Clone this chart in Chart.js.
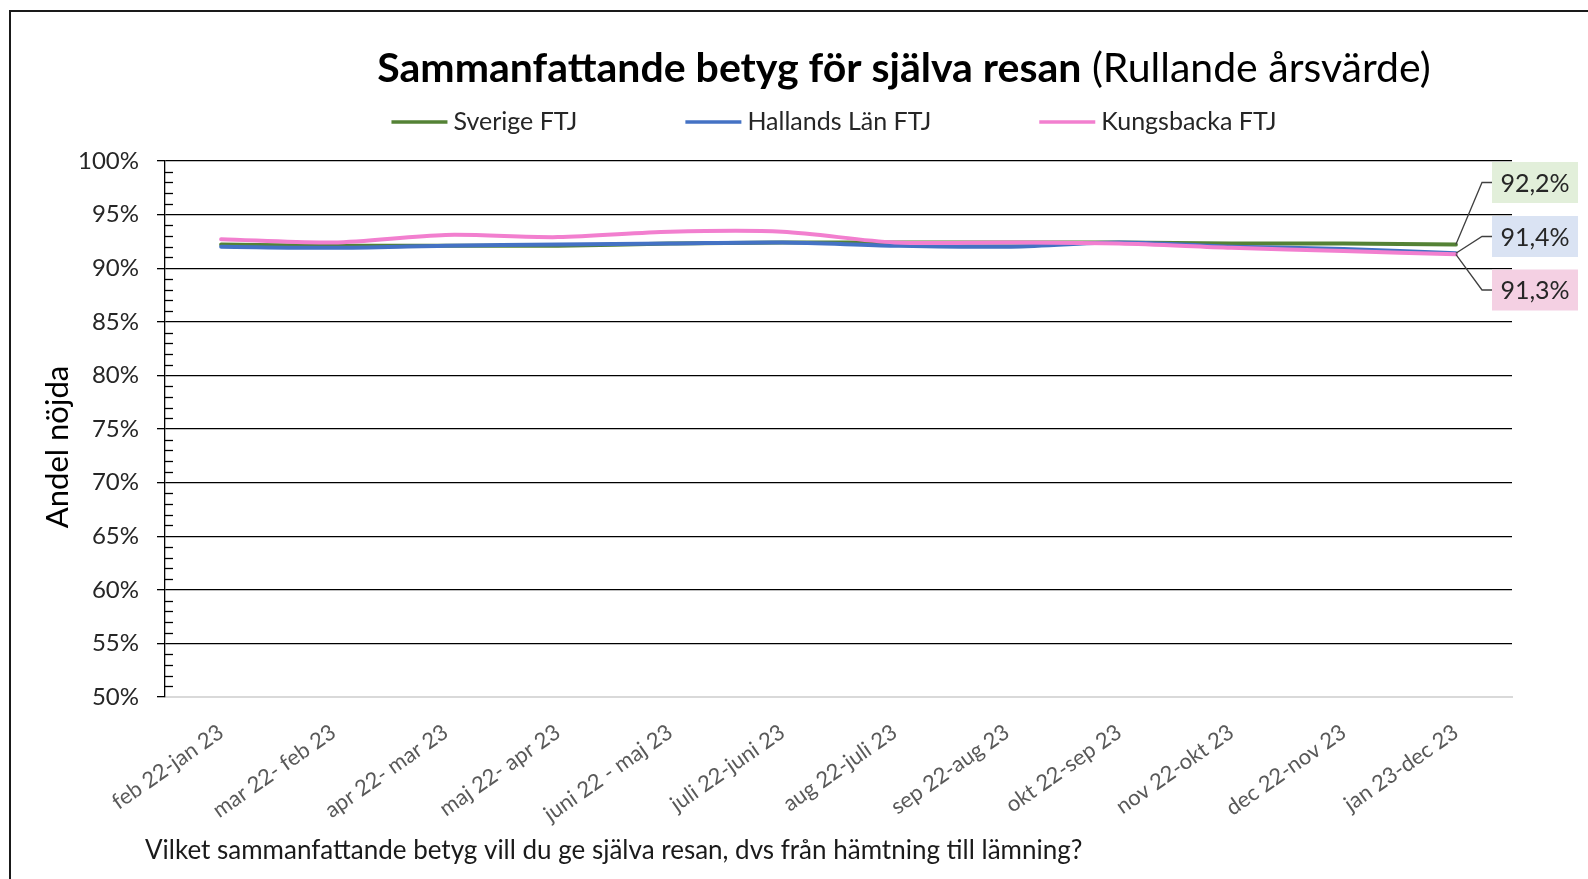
<!DOCTYPE html>
<html>
<head>
<meta charset="utf-8">
<style>
  html, body { margin: 0; padding: 0; background: #fff; }
  #wrap { width: 1588px; height: 879px; }
</style>
</head>
<body>
<div id="wrap"><canvas id="betyg" width="1588" height="879"></canvas></div>
<script src="https://cdn.jsdelivr.net/npm/chart.js"></script>
<script>
  // Perioder (rullande år)
  const perioder = [
    "feb 22-jan 23", "mar 22- feb 23", "apr 22- mar 23", "maj 22- apr 23",
    "juni 22 - maj 23", "juli 22-juni 23", "aug 22-juli 23", "sep 22-aug 23",
    "okt 22-sep 23", "nov 22-okt 23", "dec 22-nov 23", "jan 23-dec 23"
  ];

  // Andel nöjda (%)
  const sverige    = [92.2, 92.1, 92.1, 92.1, 92.3, 92.4, 92.4, 92.4, 92.4, 92.3, 92.3, 92.2];
  const halland    = [92.0, 91.9, 92.1, 92.2, 92.3, 92.4, 92.1, 92.0, 92.4, 92.0, 91.8, 91.4];
  const kungsbacka = [92.7, 92.4, 93.1, 92.9, 93.4, 93.4, 92.4, 92.4, 92.3, 91.9, 91.6, 91.3];

  const serieNamn = ["Sverige FTJ", "Hallands Län FTJ", "Kungsbacka FTJ"];

  // y-axel
  const yMin = 50;
  const yMax = 100;
  const yStep = 5;

  const titelFet = "Sammanfattande betyg för själva resan";
  const titelTillagg = " (Rullande årsvärde)";
  const yTitel = "Andel nöjda";
  const fraga = "Vilket sammanfattande betyg vill du ge själva resan, dvs från hämtning till lämning?";

  const FONT = "Lato";
  const farger = ["#548235", "#4472c4", "#f27fcf"];
  const lappFarger = ["#e2efda", "#dae3f3", "#f4d0e3"];

  // Ram, rubrik, förklaring, småstreck och slutvärden ritas här
  const ramOchText = {
    id: "ramOchText",
    beforeDraw(chart) {
      const c = chart.ctx;
      c.save();
      c.fillStyle = "#fff";
      c.fillRect(0, 0, chart.width, chart.height);
      c.strokeStyle = "#1a1a1a";
      c.lineWidth = 2;
      c.strokeRect(10, 11, chart.width + 40, chart.height + 40);
      c.restore();
    },
    afterDraw(chart) {
      const c = chart.ctx;
      const area = chart.chartArea;
      const ys = chart.scales.y;
      const xs = chart.scales.x;
      c.save();

      // små streck på y-axeln (varje procent)
      c.strokeStyle = "#000";
      c.lineWidth = 1.3;
      for (let v = yMin + 1; v < yMax; v++) {
        if (v % yStep === 0) continue;
        const py = Math.round(ys.getPixelForValue(v)) + 0.5;
        c.beginPath();
        c.moveTo(area.left, py);
        c.lineTo(area.left + 8, py);
        c.stroke();
      }

      // rubrik
      c.textBaseline = "middle";
      c.textAlign = "left";
      c.fillStyle = "#000";
      c.font = "bold 41px " + FONT;
      const w1 = c.measureText(titelFet).width;
      c.font = "41px " + FONT;
      const w2 = c.measureText(titelTillagg).width;
      const tx = 904 - (w1 + w2) / 2;
      c.font = "bold 41px " + FONT;
      c.fillText(titelFet, tx, 69);
      c.font = "41px " + FONT;
      c.fillText(titelTillagg, tx + w1, 69);

      // förklaring
      c.font = "25px " + FONT;
      c.fillStyle = "#262626";
      const linje = 56, glapp = 6, mellan = 108;
      let total = 0;
      serieNamn.forEach((n, i) => {
        total += linje + glapp + c.measureText(n).width + (i < serieNamn.length - 1 ? mellan : 0);
      });
      let lx = 834 - total / 2;
      serieNamn.forEach((n, i) => {
        c.strokeStyle = farger[i];
        c.lineWidth = 3.5;
        c.beginPath();
        c.moveTo(lx, 122);
        c.lineTo(lx + linje, 122);
        c.stroke();
        c.fillText(n, lx + linje + glapp, 122);
        lx += linje + glapp + c.measureText(n).width + mellan;
      });

      // y-axelns titel
      c.save();
      c.translate(58, 447);
      c.rotate(-Math.PI / 2);
      c.textAlign = "center";
      c.font = "31px " + FONT;
      c.fillStyle = "#000";
      c.fillText(yTitel, 0, 0);
      c.restore();

      // frågetext
      c.font = "26px " + FONT;
      c.fillStyle = "#1a1a1a";
      c.textAlign = "left";
      c.fillText(fraga, 145, 851);

      // slutvärden med hänvisningslinjer
      const lappMitt = [182.5, 236.5, 290];
      const bx = 1492, bw = 86, bh = 41;
      chart.data.datasets.forEach((ds, i) => {
        const sista = ds.data.length - 1;
        const px = xs.getPixelForValue(sista);
        const py = ys.getPixelForValue(ds.data[sista]);
        const cy = lappMitt[i];
        c.strokeStyle = "#404040";
        c.lineWidth = 1.3;
        c.beginPath();
        c.moveTo(px, py);
        c.lineTo(bx - 10, cy);
        c.lineTo(bx, cy);
        c.stroke();
        c.fillStyle = lappFarger[i];
        c.fillRect(bx, cy - bh / 2, bw, bh);
        c.fillStyle = "#262626";
        c.font = "25px " + FONT;
        c.textAlign = "center";
        c.fillText(ds.data[sista].toFixed(1).replace(".", ",") + "%", bx + bw / 2, cy + 1);
      });

      c.restore();
    }
  };

  const ctx = document.getElementById("betyg").getContext("2d");

  new Chart(ctx, {
    type: "line",
    data: {
      labels: perioder,
      datasets: [
        { label: serieNamn[0], data: sverige, borderColor: farger[0], order: 2 },
        { label: serieNamn[1], data: halland, borderColor: farger[1], order: 1 },
        { label: serieNamn[2], data: kungsbacka, borderColor: farger[2], order: 0 },
      ],
    },
    options: {
      responsive: false,
      animation: false,
      layout: { padding: { top: 161, left: 10, right: 76, bottom: 0 } },
      elements: {
        line: { borderWidth: 4, tension: 0.3, borderCapStyle: "round" },
        point: { radius: 0 },
      },
      plugins: {
        legend: { display: false },
        title: { display: false },
        tooltip: { enabled: false },
      },
      scales: {
        x: {
          offset: true,
          grid: { display: false },
          border: { display: true, color: "#d9d9d9", width: 2 },
          ticks: {
            minRotation: 35,
            maxRotation: 35,
            autoSkip: false,
            padding: 14,
            color: "#595959",
            font: { family: FONT, size: 22 },
          },
          afterFit(scale) { scale.height = 879 - 697; },
        },
        y: {
          min: yMin,
          max: yMax,
          grid: {
            color: (c) => (c.tick && c.tick.value === yMin ? "#d9d9d9" : "#000"),
            lineWidth: 1.3,
            tickLength: 8,
            tickColor: "#000",
          },
          border: { color: "#000", width: 1.3 },
          ticks: {
            stepSize: yStep,
            padding: 18,
            color: "#262626",
            font: { family: FONT, size: 24 },
            callback: (v) => v + "%",
          },
          afterFit(scale) { scale.width = 155; },
        },
      },
    },
    plugins: [ramOchText],
  });
</script>
</body>
</html>
